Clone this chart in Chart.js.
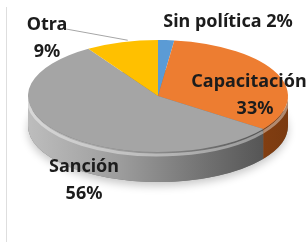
<!DOCTYPE html>
<html>
<head>
<meta charset="utf-8">
<script src="https://cdn.jsdelivr.net/npm/chart.js@4/dist/chart.umd.min.js"></script>
<style>
  html, body { margin: 0; padding: 0; background: #fff; }
  #wrap { position: relative; width: 308px; height: 242px; }
  #frame { position: absolute; left: 6px; top: 7px; height: 235px; border-left: 1px solid #dedede; }
  canvas { position: absolute; left: 0; top: 0; }
</style>
</head>
<body>
<div id="wrap">
  <div id="frame"></div>
  <canvas id="myChart" width="308" height="242"></canvas>
</div>
<script>
// categorias
var labels = ["Sin política", "Capacitación", "Sanción", "Otra"];
// porcentajes
var values = [2, 33, 56, 9];
// colores de la cara superior
var colors = ["#5B9BD5", "#ED7D31", "#A5A5A5", "#FFC000"];

// elipse y grosor del "3D"
var RX = 130, RY = 56, DEPTH = 30;

// donde va el texto de cada etiqueta
var labelPos = [
  { x: 228, y: 22, oneLine: true },
  { x: 249, y: 82 },
  { x: 84, y: 167 },
  { x: 47, y: 25 }
];

function sideFill(ctx, i, cx) {
  var g = ctx.createLinearGradient(cx - RX, 0, cx + RX, 0);
  if (i == 1) {
    g.addColorStop(0, "#c7621f");
    g.addColorStop(1, "#7a3a10");
  } else if (i == 2) {
    g.addColorStop(0, "#bdbdbd");
    g.addColorStop(0.35, "#9d9d9d");
    g.addColorStop(0.7, "#6f6f6f");
    g.addColorStop(1, "#4a4a4a");
  } else if (i == 0) {
    g.addColorStop(0, "#3f78ad");
    g.addColorStop(1, "#3f78ad");
  } else {
    g.addColorStop(0, "#c99600");
    g.addColorStop(1, "#c99600");
  }
  return g;
}

var pie3d = {
  id: "pie3d",
  beforeDatasetsDraw: function(chart) {
    var ctx = chart.ctx;
    var arcs = chart.getDatasetMeta(0).data;
    var cx = arcs[0].x, cy = arcs[0].y, R = arcs[0].outerRadius;

    // sombra debajo
    ctx.save();
    ctx.shadowColor = "rgba(0,0,0,0.22)";
    ctx.shadowBlur = 9;
    ctx.shadowOffsetY = 4;
    ctx.fillStyle = "#777";
    ctx.beginPath();
    ctx.ellipse(cx, cy + DEPTH, RX, RY, 0, 0, Math.PI * 2);
    ctx.fill();
    ctx.restore();

    // lados visibles (mitad de adelante)
    arcs.forEach(function(a, i) {
      var s = Math.max(a.startAngle, 0);
      var e = Math.min(a.endAngle, Math.PI);
      if (e <= s) return;
      ctx.save();
      ctx.beginPath();
      ctx.ellipse(cx, cy, RX, RY, 0, s, e, false);
      ctx.lineTo(cx + RX * Math.cos(e), cy + DEPTH + RY * Math.sin(e));
      ctx.ellipse(cx, cy + DEPTH, RX, RY, 0, e, s, true);
      ctx.closePath();
      ctx.fillStyle = sideFill(ctx, i, cx);
      ctx.fill();
      // brillo en el borde
      ctx.beginPath();
      ctx.ellipse(cx, cy + 3, RX, RY, 0, s, e, false);
      ctx.strokeStyle = "rgba(255,255,255,0.4)";
      ctx.lineWidth = 3;
      ctx.stroke();
      ctx.restore();
    });

    // cara superior: aplastar el circulo en elipse
    ctx.save();
    ctx.translate(cx, cy);
    ctx.scale(RX / R, RY / R);
    ctx.translate(-cx, -cy);
  },
  afterDatasetsDraw: function(chart) {
    var ctx = chart.ctx;
    ctx.restore();
    var arcs = chart.getDatasetMeta(0).data;
    var cx = arcs[0].x, cy = arcs[0].y;

    // linea guia de "Otra"
    var o = arcs[3];
    var mid = (o.startAngle + o.endAngle) / 2;
    ctx.save();
    ctx.strokeStyle = "#a6a6a6";
    ctx.lineWidth = 1;
    ctx.beginPath();
    ctx.moveTo(labelPos[3].x + 19, labelPos[3].y + 4);
    ctx.lineTo(cx + RX * Math.cos(mid) + 6, cy + RY * Math.sin(mid) - 2);
    ctx.stroke();
    ctx.restore();

    ctx.save();
    ctx.font = "bold 18px 'Noto Sans'";
    ctx.fillStyle = "#1c1c1c";
    ctx.textAlign = "center";
    ctx.textBaseline = "middle";
    labels.forEach(function(l, i) {
      var p = labelPos[i];
      var pct = values[i] + "%";
      if (p.oneLine) {
        ctx.fillText(l + " " + pct, p.x, p.y);
      } else {
        ctx.fillText(l, p.x, p.y);
        ctx.fillText(pct, p.x + (i == 1 ? 6 : 0), p.y + 27);
      }
    });
    ctx.restore();
  }
};

var ctx = document.getElementById("myChart");
var myChart = new Chart(ctx, {
  type: "pie",
  data: {
    labels: labels,
    datasets: [{
      data: values,
      backgroundColor: colors,
      borderWidth: 0,
      hoverOffset: 0
    }]
  },
  options: {
    responsive: false,
    animation: false,
    events: [],
    layout: { padding: { left: 28, right: 20, top: 0, bottom: 50 } },
    plugins: {
      legend: { display: false },
      tooltip: { enabled: false }
    }
  },
  plugins: [pie3d]
});
</script>
</body>
</html>
